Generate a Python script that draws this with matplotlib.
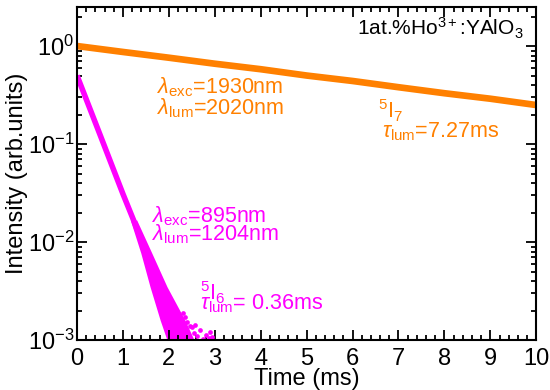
import matplotlib
matplotlib.use("Agg")
import matplotlib.pyplot as plt
from matplotlib.ticker import MultipleLocator, LogLocator

plt.rcParams['font.family'] = ['Liberation Sans', 'DejaVu Sans']
plt.rcParams['mathtext.fontset'] = 'custom'
plt.rcParams['mathtext.rm'] = 'Liberation Sans'
plt.rcParams['mathtext.it'] = 'Liberation Sans:italic'
plt.rcParams['mathtext.default'] = 'regular'

# 5I7 decay (orange)
t_i7 = [0, 1, 2, 3, 4, 5, 6, 7, 8, 9, 10]
I_i7 = [1.00, 0.87, 0.76, 0.66, 0.58, 0.50, 0.44, 0.38, 0.33, 0.29, 0.25]

# 5I6 decay (magenta), main part
t_i6 = [0.0, 0.5, 1.0, 1.23, 1.45]
I_i6 = [0.50, 0.125, 0.031, 0.0168, 0.0091]

# 5I6 noisy band near the noise floor: left / right edge at given intensities
band_I = [0.0168, 0.0077, 0.0035, 0.0016, 0.0010]
band_left = [1.16, 1.39, 1.59, 1.81, 1.96]
band_right = [1.30, 1.63, 1.96, 2.35, 2.55]

# scattered points outside the band
dots_t = [2.30, 2.35, 2.40, 2.45, 2.50, 2.55, 2.57, 2.62, 2.68, 2.75, 2.80, 2.87, 2.90, 2.95]
dots_I = [0.0019, 0.0017, 0.00152, 0.0014, 0.00135, 0.00118, 0.00142, 0.0011, 0.00127,
          0.00103, 0.00112, 0.00106, 0.0012, 0.00108]

orange = '#FF8000'
magenta = '#FF00FF'

fig = plt.figure(figsize=(5.5, 3.9), dpi=100)
ax = fig.add_axes([0.14, 0.128, 0.835, 0.854])

ax.plot(t_i7, I_i7, color=orange, lw=4.8, solid_capstyle='butt')
ax.plot(t_i6, I_i6, color=magenta, lw=4.0, solid_capstyle='butt')
ax.fill_betweenx(band_I, band_left, band_right, color=magenta, lw=0)
ax.plot(dots_t, dots_I, 'o', color=magenta, ms=3.4, mec='none')

ax.set_yscale('log')
ax.set_xlim(0, 10)
ax.set_ylim(1e-3, 2.5)

ax.xaxis.set_major_locator(MultipleLocator(1))
ax.xaxis.set_minor_locator(MultipleLocator(0.2))
ax.yaxis.set_major_locator(LogLocator(base=10, numticks=10))
ax.yaxis.set_minor_locator(LogLocator(base=10, subs=range(2, 10), numticks=20))

ax.tick_params(which='both', direction='in', top=True, right=True, width=1.3)
ax.tick_params(which='major', length=7, labelsize=17)
ax.tick_params(which='minor', length=3.5)
ax.tick_params(axis='x', pad=6)
ax.tick_params(axis='y', pad=2)
for s in ax.spines.values():
    s.set_linewidth(1.5)

ax.set_xlabel('Time (ms)', fontsize=17, labelpad=-1.5)
ax.set_ylabel('Intensity (arb.units)', fontsize=17, labelpad=0)

ax.text(0.972, 0.913, r'1at.%Ho$^{3+}$:YAlO$_3$', transform=ax.transAxes,
        ha='right', va='baseline', fontsize=15)

fs = 15.5
ax.text(1.74, 0.33, r'$\mathit{\lambda}_{\mathrm{exc}}$=1930nm', color=orange, fontsize=fs, va='baseline')
ax.text(1.74, 0.20, r'$\mathit{\lambda}_{\mathrm{lum}}$=2020nm', color=orange, fontsize=fs, va='baseline')
ax.text(6.56, 0.184, r'$^5$I$_7$', color=orange, fontsize=fs, va='baseline')
ax.text(6.65, 0.118, r'$\mathit{\tau}_{\mathrm{lum}}$=7.27ms', color=orange, fontsize=fs, va='baseline')

ax.text(1.63, 0.016, r'$\mathit{\lambda}_{\mathrm{exc}}$=895nm', color=magenta, fontsize=fs, va='baseline')
ax.text(1.63, 0.0105, r'$\mathit{\lambda}_{\mathrm{lum}}$=1204nm', color=magenta, fontsize=fs, va='baseline')
ax.text(2.68, 0.00256, r'$^5$I$_6$', color=magenta, fontsize=fs, va='baseline')
ax.text(2.68, 0.00205, r'$\mathit{\tau}_{\mathrm{lum}}$= 0.36ms', color=magenta, fontsize=fs, va='baseline')

fig.savefig('out.png', dpi=100)
